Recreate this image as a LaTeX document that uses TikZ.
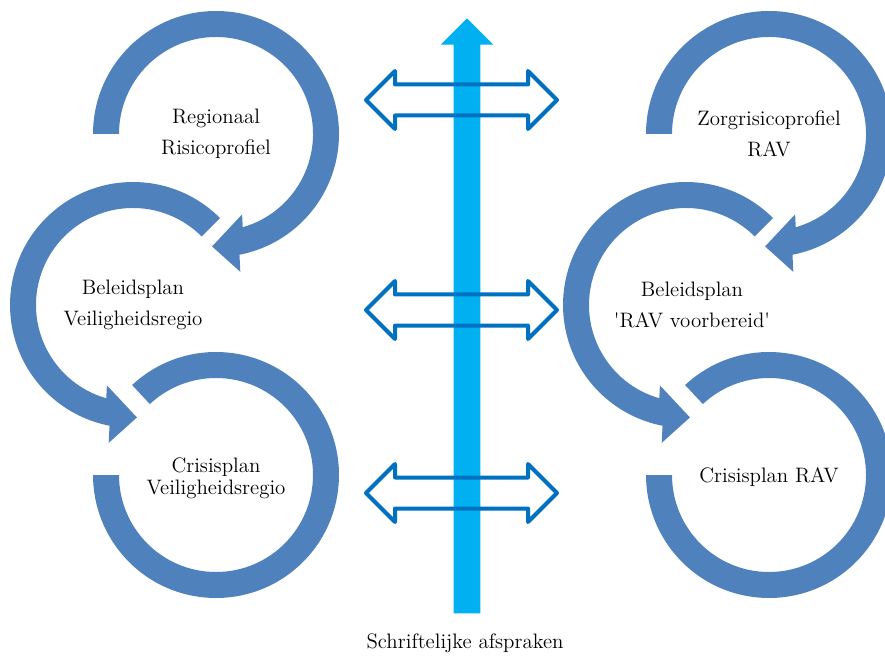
\documentclass[tikz,border=0pt]{standalone}
\usepackage{tikz}
\usetikzlibrary{calc}
\usetikzlibrary{positioning}
\usetikzlibrary{shapes.arrows}

\definecolor{ringblue}{HTML}{4F81BD}
\definecolor{barblue}{HTML}{00B0F0}
\definecolor{linkblue}{HTML}{0070C0}

\begin{document}
\begin{tikzpicture}[
    ring/.style={fill=ringblue},
    plan/.style={align=center, font=\fontsize{11.9}{17.6}\selectfont},
    tightplan/.style={align=center, font=\fontsize{11.9}{12.5}\selectfont},
    link/.style={double arrow, draw=linkblue, line width=0.08cm, line join=round,
        minimum height=3.82cm, inner sep=0pt, inner ysep=0.27cm,
        double arrow head extend=0.27cm},
    bar/.style={single arrow, fill=barblue, rotate=90, minimum height=11.9cm,
        inner sep=0pt, inner ysep=0.26cm, single arrow head extend=0.26cm}
]
    \useasboundingbox (0,0) rectangle (17.7,13.1);

    \coordinate (c1) at (4.32,10.42);
    \coordinate (c2) at (2.66,7.00);
    \coordinate (c3) at (4.32,3.60);
    \coordinate (c4) at (15.38,10.42);
    \coordinate (c5) at (13.72,7.00);
    \coordinate (c6) at (15.38,3.60);

    % left cycle
    \fill[ring] ($(c1)+(180:2.46)$) arc[start angle=180, end angle=-79, radius=2.46]
        -- ($(c1)+(-80:2.80)$) -- ($(c1)+(-92:2.25)$) -- ($(c1)+(-72:1.69)$)
        -- ($(c1)+(-74:1.94)$) arc[start angle=-74, end angle=180, radius=1.94] -- cycle;
    \fill[ring] ($(c2)+(45:2.46)$) arc[start angle=45, end angle=259, radius=2.46]
        -- ($(c2)+(260:2.80)$) -- ($(c2)+(272:2.25)$) -- ($(c2)+(252:1.69)$)
        -- ($(c2)+(254:1.94)$) arc[start angle=254, end angle=45, radius=1.94] -- cycle;
    \fill[ring] ($(c3)+(133:2.46)$) arc[start angle=133, end angle=-180, radius=2.46]
        -- ($(c3)+(180:1.94)$) arc[start angle=-180, end angle=133, radius=1.94] -- cycle;

    % right cycle
    \fill[ring] ($(c4)+(180:2.46)$) arc[start angle=180, end angle=-79, radius=2.46]
        -- ($(c4)+(-80:2.80)$) -- ($(c4)+(-92:2.25)$) -- ($(c4)+(-72:1.69)$)
        -- ($(c4)+(-74:1.94)$) arc[start angle=-74, end angle=180, radius=1.94] -- cycle;
    \fill[ring] ($(c5)+(45:2.46)$) arc[start angle=45, end angle=259, radius=2.46]
        -- ($(c5)+(260:2.80)$) -- ($(c5)+(272:2.25)$) -- ($(c5)+(252:1.69)$)
        -- ($(c5)+(254:1.94)$) arc[start angle=254, end angle=45, radius=1.94] -- cycle;
    \fill[ring] ($(c6)+(133:2.46)$) arc[start angle=133, end angle=-180, radius=2.46]
        -- ($(c6)+(180:1.94)$) arc[start angle=-180, end angle=133, radius=1.94] -- cycle;

    \node[plan] at (c1) (risico) {Regionaal\\Risicoprofiel};
    \node[plan] at (c2) (beleid) {Beleidsplan\\Veiligheidsregio};
    \node[tightplan, yshift=-0.06cm] at (c3) (crisis) {Crisisplan\\Veiligheidsregio};
    \node[plan] at (c4) (zorg) {Zorgrisicoprofiel\\RAV};
    \node[plan, xshift=0.12cm] at (c5) (ravplan) {Beleidsplan\\\textquotesingle RAV voorbereid\textquotesingle};
    \node[plan, yshift=-0.04cm] at (c6) (ravcrisis) {Crisisplan RAV};

    % afspraken
    \node[bar] at (9.34,6.65) (afspraak) {};
    \node[link] at (9.23,11.10) (link1) {};
    \node[link] at (9.23,6.90) (link2) {};
    \node[link] at (9.23,3.24) (link3) {};
    \node[plan, anchor=base] at (9.30,0.14) (schrift) {Schriftelijke afspraken};
\end{tikzpicture}
\end{document}
